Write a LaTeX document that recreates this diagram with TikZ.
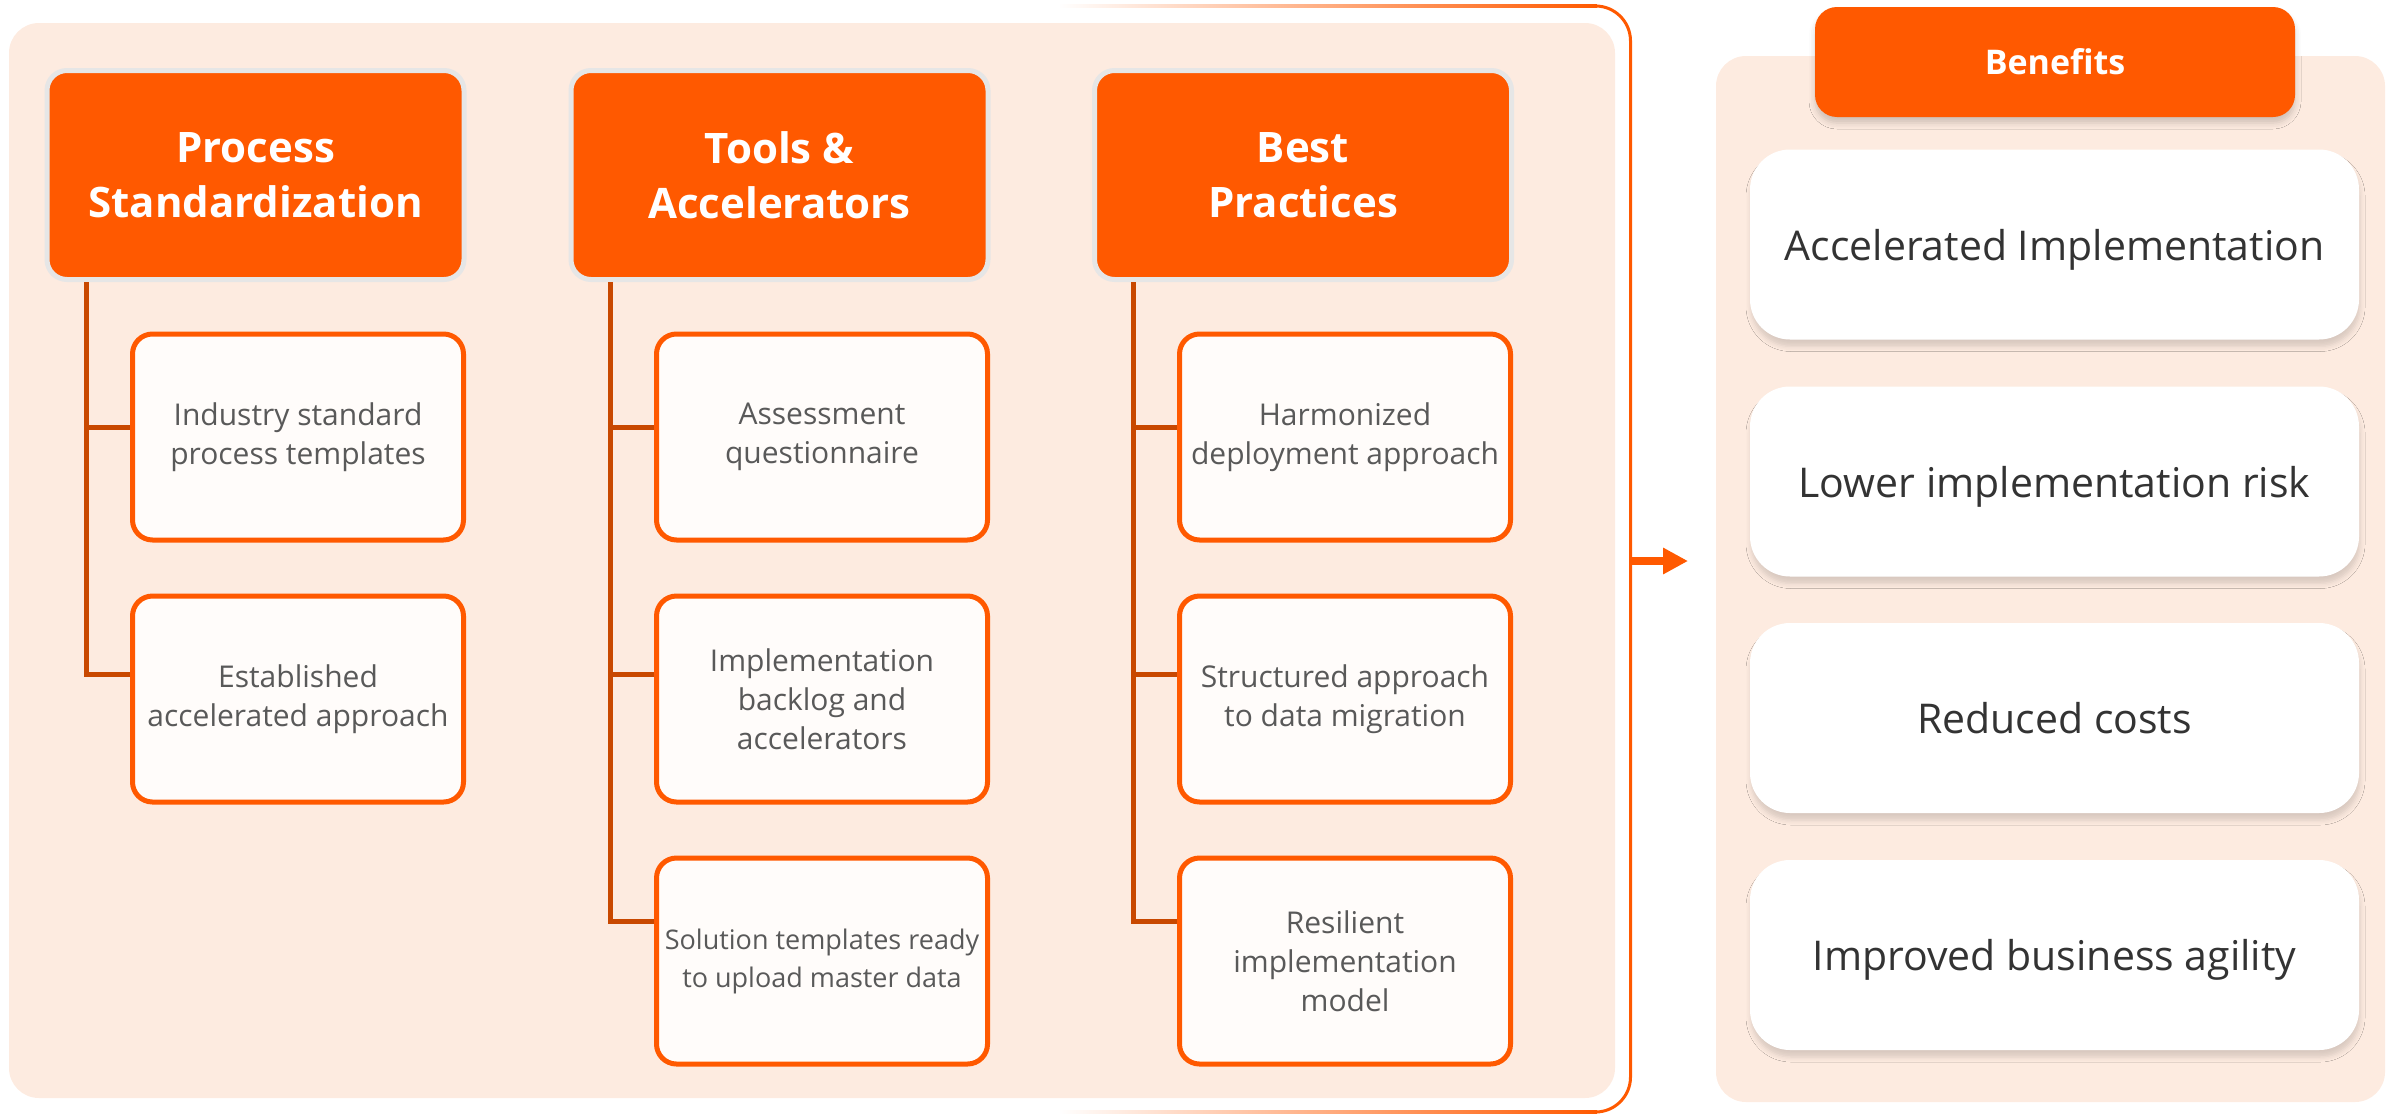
\documentclass[tikz,border=0pt]{standalone}
\usepackage{fontspec}
\setmainfont{Open Sans}
\usetikzlibrary{arrows.meta,calc,shadows.blur}

\definecolor{hdorange}{RGB}{255,89,0}
\definecolor{trunkrust}{RGB}{200,72,0}
\definecolor{panelpeach}{RGB}{253,235,224}
\definecolor{childfill}{RGB}{255,252,250}
\definecolor{childtext}{RGB}{89,89,89}
\definecolor{bentext}{RGB}{51,51,51}
\definecolor{hdrim}{RGB}{230,230,230}

\tikzset{every picture/.style={line width=0.75pt},
  headbox/.style={draw=hdrim, line width=5pt, fill=hdorange, rounded corners=20pt,
    minimum width=417pt, minimum height=209pt, inner sep=0pt, align=center,
    text=white, font=\fontsize{42}{55}\selectfont\bfseries},
  childbox/.style={draw=hdorange, line width=5pt, fill=childfill, rounded corners=20pt,
    minimum width=331pt, minimum height=206pt, inner sep=0pt, align=center,
    text=childtext, font=\fontsize{30}{39}\selectfont},
  benhead/.style={fill=hdorange, rounded corners=22pt, minimum width=480pt,
    minimum height=110pt, inner sep=0pt, text=white, font=\fontsize{34}{40}\selectfont\bfseries,
    blur shadow={shadow xshift=0pt, shadow yshift=-6pt, shadow blur radius=6pt,
      shadow opacity=18}},
  benbox/.style={fill=white, rounded corners=40pt, minimum width=609pt,
    minimum height=190pt, inner sep=0pt, text=bentext, text depth=0pt,
    font=\fontsize{41}{50}\selectfont,
    blur shadow={shadow xshift=1pt, shadow yshift=-7pt, shadow blur radius=5pt,
      shadow opacity=14}},
  trunk/.style={draw=trunkrust, line width=5pt},
  bracketline/.style={draw=hdorange, line width=3pt, rounded corners=35pt},
  flowarrow/.style={draw=hdorange, line width=8pt, -{Triangle[length=25pt,width=25pt]}}
}

\begin{document}
\begin{tikzpicture}[x=1pt,y=1pt,yscale=-1,xscale=1]
\useasboundingbox (0,0) rectangle (2397,1114);

%Shape: Rounded Rect, left panel
\fill[panelpeach, rounded corners=30pt] (9,23) rectangle (1615,1098);
%Shape: Rounded Rect, right panel
\fill[panelpeach, rounded corners=30pt] (1716,56) rectangle (2385,1102);

%Shape: Bracket, faded ends
\shade[left color=white, middle color=hdorange!30, right color=hdorange] (1058,4.5) rectangle (1597,7.5);
\shade[left color=white, middle color=hdorange!30, right color=hdorange] (1058,1110.5) rectangle (1597,1113.5);
%Shape: Bracket
\draw[bracketline] (1595,6) -- (1630.5,6) -- (1630.5,1112) -- (1595,1112);

%Arrow
\coordinate (arwS) at (1630,561);
\coordinate (arwE) at (1688,561);
\draw[flowarrow] (arwS) -- (arwE);

% Header Nodes
\node[headbox] (h1) at (255.5,175) {Process\\Standardization};
\node[headbox] (h2) at (779.5,175) {Tools \&\\Accelerators};
\node[headbox] (h3) at (1303,175) {Best\\Practices};

% Child Nodes, column 1
\node[childbox] (c11) at (298,437) {Industry standard\\process templates};
\node[childbox] (c12) at (298,699) {Established\\accelerated approach};
% Child Nodes, column 2
\node[childbox] (c21) at (822,437) {Assessment\\questionnaire};
\node[childbox] (c22) at (822,699) {Implementation\\backlog and\\accelerators};
\node[childbox, font=\fontsize{27}{38}\selectfont] (c23) at (822,961) {Solution templates ready\\to upload master data};
% Child Nodes, column 3
\node[childbox] (c31) at (1345,437) {Harmonized\\deployment approach};
\node[childbox] (c32) at (1345,699) {Structured approach\\to data migration};
\node[childbox] (c33) at (1345,961) {Resilient\\implementation\\model};

%Straight Lines, tree of column 1
\coordinate (t1) at ($(h1.south west)+(41.5,0)$);
\draw[trunk] (t1) |- ($(c11.west)+(0,-10)$);
\draw[trunk] (t1) |- ($(c12.west)+(0,-25)$);
%Straight Lines, tree of column 2
\coordinate (t2) at ($(h2.south west)+(41.5,0)$);
\draw[trunk] (t2) |- ($(c21.west)+(0,-10)$);
\draw[trunk] (t2) |- ($(c22.west)+(0,-25)$);
\draw[trunk] (t2) |- ($(c23.west)+(0,-40)$);
%Straight Lines, tree of column 3
\coordinate (t3) at ($(h3.south west)+(41.5,0)$);
\draw[trunk] (t3) |- ($(c31.west)+(0,-10)$);
\draw[trunk] (t3) |- ($(c32.west)+(0,-25)$);
\draw[trunk] (t3) |- ($(c33.west)+(0,-40)$);

% Benefits Nodes
\node[benhead] (bh) at (2055,62) {Benefits};
\node[benbox] (b1) at (2054.5,244.5) {Accelerated Implementation};
\node[benbox] (b2) at (2054.5,481.5) {Lower implementation risk};
\node[benbox] (b3) at (2054.5,718) {Reduced costs};
\node[benbox] (b4) at (2054.5,955) {Improved business agility};

\end{tikzpicture}
\end{document}
